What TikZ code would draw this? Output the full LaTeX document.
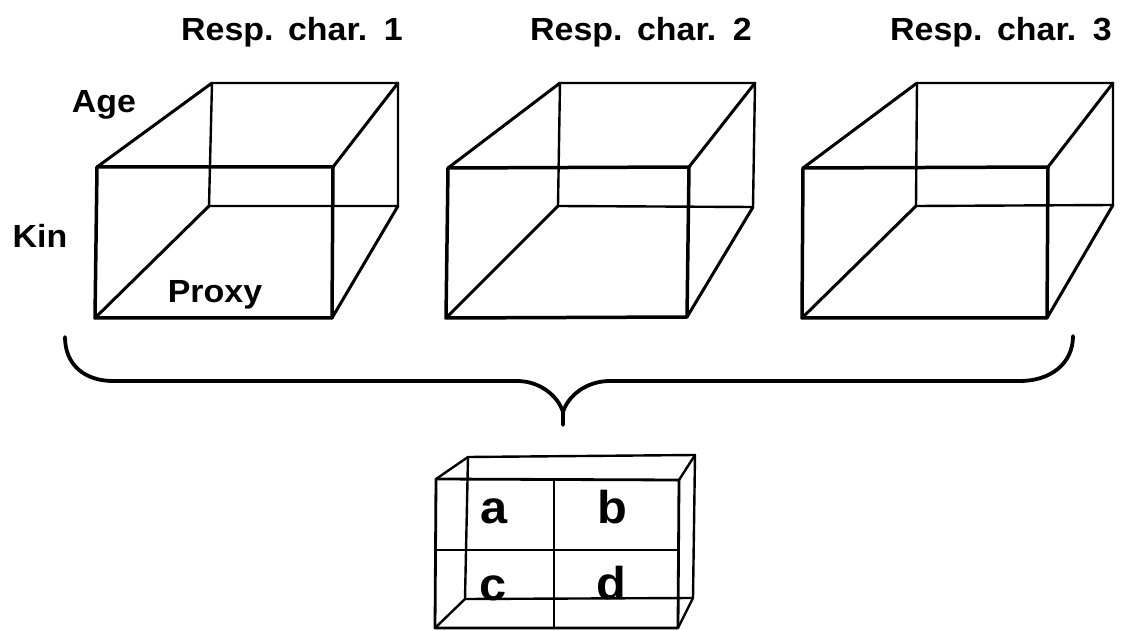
\documentclass[tikz,border=0pt]{standalone}
\usepackage{fontspec}
\setmainfont{Liberation Sans}[FakeStretch=1.06]
\begin{document}
\begin{tikzpicture}[x=1pt,y=-1pt,
  lab/.style={inner sep=0pt, anchor=base, font=\bfseries\fontsize{32}{38}\selectfont},
  cell/.style={inner sep=0pt, anchor=base, font=\bfseries\fontsize{46}{52}\selectfont},
  front/.style={line width=3.5pt, line join=round, line cap=round},
  back/.style={line width=2.4pt, line join=round, line cap=round},
  edge/.style={line width=3pt, line cap=round},
  brace/.style={line width=3.8pt, line cap=round}]
\useasboundingbox (0,0) rectangle (1128,631);

% titles
\node[lab] (t1) at (292,41) {Resp.\hspace{2pt} char.\hspace{4pt} 1};
\node[lab] (t2) at (641,41) {Resp.\hspace{2pt} char.\hspace{4pt} 2};
\node[lab] (t3) at (1001,41) {Resp.\hspace{2pt} char.\hspace{4pt} 3};
\node[lab] (age) at (104,113) {Age};
\node[lab] (kin) at (40,248) {Kin};
\node[lab] (proxy) at (215,303) {Proxy};

% cube 1
\coordinate (a1) at (97,167); \coordinate (b1) at (333,167);
\coordinate (c1) at (332,318); \coordinate (d1) at (95,318);
\coordinate (e1) at (212,83); \coordinate (f1) at (398,83);
\coordinate (g1) at (398,206); \coordinate (h1) at (209,206);
% cube 2
\coordinate (a2) at (448,168); \coordinate (b2) at (689,167);
\coordinate (c2) at (687,317); \coordinate (d2) at (446,318);
\coordinate (e2) at (560,83); \coordinate (f2) at (755,83);
\coordinate (g2) at (753,207); \coordinate (h2) at (558,206);
% cube 3
\coordinate (a3) at (803,168); \coordinate (b3) at (1048,167);
\coordinate (c3) at (1047,318); \coordinate (d3) at (802,318);
\coordinate (e3) at (917,83); \coordinate (f3) at (1113,83);
\coordinate (g3) at (1113,205); \coordinate (h3) at (916,206);

\foreach \i in {1,2,3} {
  \draw[back] (e\i) -- (f\i) -- (g\i) -- (h\i) -- cycle;
  \draw[edge] (a\i) -- (e\i);
  \draw[edge] (b\i) -- (f\i);
  \draw[edge] (c\i) -- (g\i);
  \draw[edge] (d\i) -- (h\i);
  \draw[front] (a\i) -- (b\i) -- (c\i) -- (d\i) -- cycle;
}

% brace
\coordinate (bl) at (65,337);
\coordinate (br) at (1073,336);
\coordinate (bm) at (563,412);
\coordinate (btip) at (563,425);
\draw[brace] (bl) .. controls (65,366) and (86,381) .. (113,381) -- (517,381)
  .. controls (540,381) and (558,396) .. (bm) -- (btip);
\draw[brace] (bm) .. controls (568,396) and (586,381) .. (610,381) -- (1020,381)
  .. controls (1050,381) and (1073,364) .. (br);

% small box
\coordinate (sa) at (436,479); \coordinate (sb) at (679,480);
\coordinate (sc) at (678,628); \coordinate (sd) at (435,628);
\coordinate (se) at (468,457); \coordinate (sf) at (695,455);
\coordinate (sg) at (693,598); \coordinate (sh) at (465,599);
\coordinate (mt) at (554,479); \coordinate (mb) at (554,628);
\coordinate (ml) at (436,550); \coordinate (mr) at (678,550);

\draw[back] (se) -- (sf) -- (sg) -- (sh) -- cycle;
\draw[back] (sa) -- (se); \draw[back] (sb) -- (sf);
\draw[back] (sc) -- (sg); \draw[back] (sd) -- (sh);
\draw[back, line width=2.8pt] (sa) -- (sb) -- (sc) -- (sd) -- cycle;
\draw[back] (mt) -- (mb);
\draw[back, line width=2.8pt] (ml) -- (mr);

\node[cell] (ca) at (494,523) {a};
\node[cell] (cb) at (612,523) {b};
\node[cell] (cc) at (493,600) {c};
\node[cell] (cd) at (611,599) {d};
\end{tikzpicture}
\end{document}
